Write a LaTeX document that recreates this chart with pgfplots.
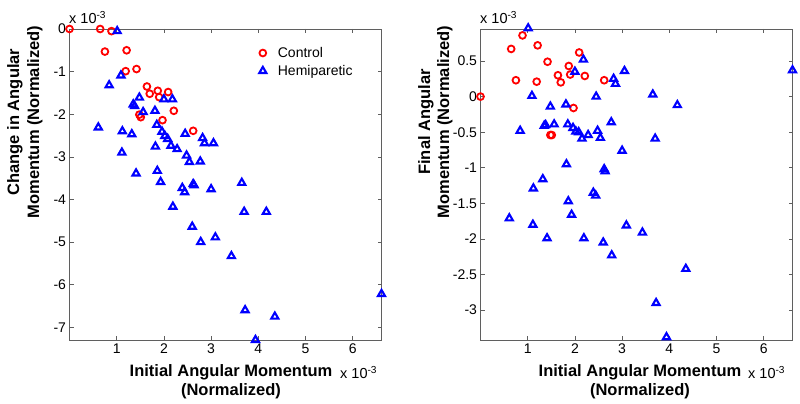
\documentclass[border=0pt]{standalone}
\usepackage{pgfplots}
\pgfplotsset{compat=1.18}
\usepackage{pgfplotstable}
\usepackage{fontspec}
\setmainfont{Liberation Sans}
\definecolor{axgray}{RGB}{95,95,95}
\definecolor{mred}{RGB}{255,0,0}
\definecolor{mblue}{RGB}{0,0,255}

\pgfplotstableread{
x change final
0.00 0.00 0.00
0.65 0.00 0.67
0.89 -0.05 0.86
0.75 -0.53 0.23
1.21 -0.50 0.72
1.19 -0.99 0.21
1.42 -0.94 0.49
1.64 -1.35 0.30
1.70 -1.52 0.20
1.87 -1.45 0.43
1.90 -1.60 0.31
2.09 -1.48 0.62
2.21 -1.92 0.29
1.97 -2.14 -0.16
1.48 -2.01 -0.54
1.51 -2.07 -0.54
2.62 -2.39 0.23
}\control

\pgfplotstableread{
x change final
1.01 -0.05 0.96
1.09 -1.09 0.01
0.84 -1.32 -0.48
0.61 -2.31 -1.71
1.12 -2.40 -1.29
1.32 -2.47 -1.16
1.11 -2.90 -1.80
1.35 -1.77 -0.41
1.38 -1.81 -0.40
1.48 -1.61 -0.14
1.56 -1.95 -0.39
1.41 -3.39 -1.99
1.81 -1.92 -0.11
2.00 -1.65 0.35
2.18 -1.65 0.52
1.85 -2.25 -0.39
1.96 -2.41 -0.44
2.02 -2.51 -0.49
2.08 -2.58 -0.50
2.15 -2.74 -0.59
2.28 -2.82 -0.54
1.82 -2.76 -0.95
2.45 -2.46 0.00
2.48 -2.97 -0.48
2.54 -3.12 -0.58
2.77 -3.11 -0.36
2.82 -2.56 0.25
2.86 -2.68 0.18
3.05 -2.68 0.36
1.86 -3.33 -1.47
1.93 -3.59 -1.66
2.39 -3.73 -1.35
2.44 -3.83 -1.39
2.62 -3.64 -1.02
2.64 -3.67 -1.05
3.00 -3.76 -0.76
2.19 -4.17 -1.99
2.60 -4.64 -2.05
2.78 -5.00 -2.23
3.09 -4.89 -1.81
3.43 -5.33 -1.91
3.65 -3.61 0.03
3.70 -4.29 -0.59
4.17 -4.29 -0.12
6.61 -6.22 0.37
3.72 -6.60 -2.90
4.35 -6.75 -2.42
3.94 -7.30 -3.38
}\hemi

\pgfplotsset{
  mystyle/.style={
    scale only axis,
    width=312pt, height=311pt,
    anchor=south west,
    clip=false,
    axis line style={axgray},
    tick style={axgray, line width=0.6pt},
    major tick length=4pt,
    tick align=inside,
    xmin=0, xmax=6.61,
    xtick={1,2,3,4,5,6},
    scaled ticks=false,
    /pgf/number format/assume math mode=true,
    tick label style={font=\fontsize{14}{16}\selectfont, black},
    every axis plot/.append style={only marks},
  },
  ctrl/.style={mark=o, mark size=3.4pt, mred, line width=1.8pt},
  hemi/.style={mark=triangle, mark size=4.1pt, mblue, line width=2.1pt},
}

\begin{document}
\begin{tikzpicture}[x=1pt,y=1pt]
\useasboundingbox (0,0) rectangle (800,404);

\begin{axis}[mystyle, at={(69.5pt,64pt)},
  ymin=-7.3, ymax=0,
  ytick={-7,-6,-5,-4,-3,-2,-1,0},
  legend style={draw=none, fill=none, at={(0.59,0.955)}, anchor=north west,
    font=\fontsize{14}{16}\selectfont, row sep=2.3pt},
  legend cell align=left,
  legend image code/.code={\draw[#1] plot coordinates {(0pt,0pt)}; \path (-5pt,0pt) (12pt,0pt);},
]
\addplot[ctrl] table[x=x,y=change]{\control};
\addlegendentry{Control}
\addplot[hemi] table[x=x,y=change]{\hemi};
\addlegendentry{Hemiparetic}
\end{axis}

\begin{axis}[mystyle, at={(480.5pt,64pt)},
  ymin=-3.42, ymax=0.95,
  ytick={-3,-2.5,-2,-1.5,-1,-0.5,0,0.5},
  yticklabels={-3,-2.5,-2,-1.5,-1,-0.5,0,0.5},
]
\addplot[ctrl] table[x=x,y=final]{\control};
\addplot[hemi] table[x=x,y=final]{\hemi};
\end{axis}

% multipliers
\node[anchor=base west, inner sep=0pt, font=\fontsize{14.5}{16}\selectfont] at (69,380) {x 10\textsuperscript{-3}};
\node[anchor=base west, inner sep=0pt, font=\fontsize{14.5}{16}\selectfont] at (480,380) {x 10\textsuperscript{-3}};
\node[anchor=base west, inner sep=0pt, font=\fontsize{14.5}{16}\selectfont] at (340,25) {x 10\textsuperscript{-3}};
\node[anchor=base west, inner sep=0pt, font=\fontsize{14.5}{16}\selectfont] at (748,25) {x 10\textsuperscript{-3}};

% x labels
\node[anchor=base, inner sep=0pt, font=\fontsize{16.5}{19}\selectfont\bfseries] at (231,27.3) {Initial Angular Momentum};
\node[anchor=base, inner sep=0pt, font=\fontsize{16.5}{19}\selectfont\bfseries] at (231,9) {(Normalized)};
\node[anchor=base, inner sep=0pt, font=\fontsize{16.5}{19}\selectfont\bfseries] at (640,27.3) {Initial Angular Momentum};
\node[anchor=base, inner sep=0pt, font=\fontsize{16.5}{19}\selectfont\bfseries] at (640,9) {(Normalized)};

% y labels
\node[rotate=90, anchor=base, inner sep=0pt, font=\fontsize{16.5}{19}\selectfont\bfseries] at (19,282) {Change in Angular};
\node[rotate=90, anchor=base, inner sep=0pt, font=\fontsize{16.5}{19}\selectfont\bfseries] at (39,282) {Momentum (Normalized)};
\node[rotate=90, anchor=base, inner sep=0pt, font=\fontsize{16.5}{19}\selectfont\bfseries] at (430,282) {Final Angular};
\node[rotate=90, anchor=base, inner sep=0pt, font=\fontsize{16.5}{19}\selectfont\bfseries] at (449,282) {Momentum (Normalized)};
\end{tikzpicture}
\end{document}
